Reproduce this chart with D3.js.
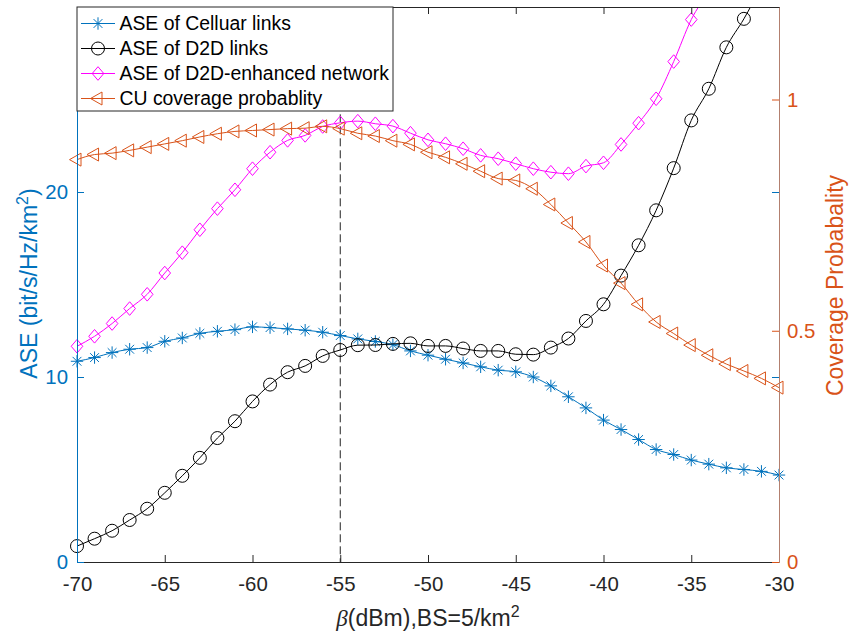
<!DOCTYPE html>
<html><head><meta charset="utf-8">
<script src="https://cdn.jsdelivr.net/npm/d3@7"></script>
<style>
body{margin:0;background:#fff}
svg{display:block}
text{font-family:"Liberation Sans",Arial,Helvetica,sans-serif}
</style>
</head><body>
<svg id="chart" width="849" height="635"></svg>
<script>
// ---------- data ----------
const beta = [-70,-69,-68,-67,-66,-65,-64,-63,-62,-61,-60,-59,-58,-57,-56,-55,-54,-53,-52,-51,
              -50,-49,-48,-47,-46,-45,-44,-43,-42,-41,-40,-39,-38,-37,-36,-35,-34,-33,-32,-31,-30];
const aseCellular = [10.85,11.05,11.32,11.5,11.59,11.93,12.11,12.36,12.47,12.56,
                     12.71,12.67,12.6,12.53,12.42,12.24,12.06,11.92,11.75,11.41,
                     11.18,10.96,10.76,10.55,10.37,10.28,10.0,9.52,8.93,8.33,
                     7.67,7.16,6.62,6.08,5.81,5.51,5.29,5.09,5.0,4.9,4.7];
const aseD2D = [0.86,1.26,1.69,2.27,2.88,3.74,4.66,5.63,6.70,7.61,
                8.68,9.59,10.26,10.6,11.14,11.46,11.72,11.73,11.79,11.82,
                11.68,11.68,11.54,11.41,11.41,11.23,11.21,11.59,12.08,13.03,
                13.93,15.48,17.12,19.01,21.29,23.87,25.58,27.82,29.36,31.1,32.8];
const aseEnhanced = [11.66,12.2,12.89,13.7,14.47,15.62,16.72,17.96,19.1,20.12,
                     21.26,22.15,22.79,23.06,23.54,23.74,23.83,23.69,23.56,23.18,
                     22.82,22.61,22.34,21.98,21.8,21.53,21.26,21.07,20.99,21.4,
                     21.58,22.57,23.72,25.04,27.05,29.32,30.9,32.9,34.4,36.0,37.5];
const cuCoverage = [0.870,0.881,0.884,0.890,0.897,0.904,0.911,0.919,0.926,0.931,
                    0.933,0.935,0.937,0.938,0.942,0.937,0.927,0.921,0.911,0.903,
                    0.886,0.875,0.861,0.845,0.829,0.825,0.807,0.773,0.733,0.692,
                    0.641,0.603,0.557,0.519,0.494,0.469,0.447,0.428,0.413,0.397,0.377];
const xTicks = [-70,-65,-60,-55,-50,-45,-40,-35,-30];
const yLeftTicks = [0,10,20];
const yRightTicks = [0,0.5,1];
const xDomain = [-70,-30];
const yLeftDomain = [0,30];
const yRightDomain = [0,1.2];
const markerX = -55;       // dashed reference line position
const markerTop = 24.2;    // top of dashed line (ASE units)
const legendLabels = ["ASE of Celluar links","ASE of D2D links","ASE of D2D-enhanced network","CU coverage probablity"];

// ---------- layout ----------
const L = 77, R = 779, T = 7, B = 562;
const BLUE = "#0072BD", ORANGE = "#D95319", MAGENTA = "#FF00FF", BLACK = "#000000", AX = "#262626";
const fmt = d => String(d);

const svg = d3.select("#chart");
const x = d3.scaleLinear().domain(xDomain).range([L, R]);
const yL = d3.scaleLinear().domain(yLeftDomain).range([B, T]);
const yR = d3.scaleLinear().domain(yRightDomain).range([B, T]);

svg.append("defs").append("clipPath").attr("id","plotclip")
  .append("rect").attr("x",L).attr("y",T).attr("width",R-L).attr("height",B-T);

// ---------- markers ----------
function drawMarker(g, type, cx, cy, color){
  if(type==="star"){
    const s=6.2, d=4.4;
    const p=`M${cx-s},${cy}L${cx+s},${cy}M${cx},${cy-s}L${cx},${cy+s}M${cx-d},${cy-d}L${cx+d},${cy+d}M${cx-d},${cy+d}L${cx+d},${cy-d}`;
    g.append("path").attr("d",p).attr("stroke",color).attr("stroke-width",1).attr("fill","none");
  } else if(type==="circle"){
    g.append("circle").attr("cx",cx).attr("cy",cy).attr("r",6.5).attr("stroke",color).attr("stroke-width",1).attr("fill","none");
  } else if(type==="diamond"){
    const p=`M${cx},${cy-6.8}L${cx+5.8},${cy}L${cx},${cy+6.8}L${cx-5.8},${cy}Z`;
    g.append("path").attr("d",p).attr("stroke",color).attr("stroke-width",1).attr("fill","none");
  } else if(type==="tri"){
    const p=`M${cx-7.5},${cy}L${cx+4},${cy-6.5}L${cx+4},${cy+6.5}Z`;
    g.append("path").attr("d",p).attr("stroke",color).attr("stroke-width",1).attr("fill","none");
  }
}

const series = [
  {vals: aseCellular, scale: yL, color: BLUE, marker: "star"},
  {vals: aseD2D, scale: yL, color: BLACK, marker: "circle"},
  {vals: aseEnhanced, scale: yL, color: MAGENTA, marker: "diamond"},
  {vals: cuCoverage, scale: yR, color: ORANGE, marker: "tri"}
];

// ---------- dashed line ----------
svg.append("line")
  .attr("x1",x(markerX)).attr("x2",x(markerX))
  .attr("y1",yL(markerTop)).attr("y2",yL(0))
  .attr("stroke","#222").attr("stroke-width",1).attr("stroke-dasharray","8,4");

// ---------- series ----------
series.forEach(s=>{
  const pts = beta.map((b,i)=>[b, s.vals[i]]);
  const line = d3.line().x(d=>x(d[0])).y(d=>s.scale(d[1])).curve(d3.curveMonotoneX);
  svg.append("path").attr("d",line(pts)).attr("fill","none")
    .attr("stroke",s.color).attr("stroke-width",1).attr("clip-path","url(#plotclip)");
  const g = svg.append("g");
  pts.forEach(p=>{
    const py = s.scale(p[1]);
    if(py >= T - 0.5 && py <= B + 0.5) drawMarker(g, s.marker, x(p[0]), py, s.color);
  });
});

// ---------- axes ----------
function styleAxis(g, color, textColor, fs){
  g.select(".domain").attr("stroke",color).attr("stroke-width",1);
  g.selectAll(".tick line").attr("stroke",color).attr("stroke-width",1);
  g.selectAll(".tick text").attr("fill",textColor).style("font-size",fs+"px")
    .style("font-family",'"Liberation Sans",Arial,sans-serif');
}
// top border
const gTop = svg.append("g").attr("transform",`translate(0,${T})`)
  .call(d3.axisTop(x).tickValues(xTicks).tickSizeInner(-7).tickSizeOuter(0).tickFormat(""));
styleAxis(gTop, AX, AX, 20.4);
// bottom axis
const gBot = svg.append("g").attr("transform",`translate(0,${B})`)
  .call(d3.axisBottom(x).tickValues(xTicks).tickSizeInner(-7).tickSizeOuter(0).tickPadding(15).tickFormat(fmt));
styleAxis(gBot, AX, AX, 20.4);
// right mirrored blue ticks
const gRB = svg.append("g").attr("transform",`translate(${R},0)`)
  .call(d3.axisRight(yL).tickValues(yLeftTicks).tickSizeInner(-7).tickSizeOuter(0).tickFormat(""));
gRB.select(".domain").remove();
gRB.selectAll(".tick line").attr("stroke",BLUE);
// right axis
const gR = svg.append("g").attr("transform",`translate(${R},0)`)
  .call(d3.axisRight(yR).tickValues(yRightTicks).tickSizeInner(-7).tickSizeOuter(0).tickPadding(8)
        .tickFormat(fmt));
styleAxis(gR, ORANGE, ORANGE, 20.4);
gR.select(".domain").attr("stroke","#b3806f");
// left axis
const gL = svg.append("g").attr("transform",`translate(${L},0)`)
  .call(d3.axisLeft(yL).tickValues(yLeftTicks).tickSizeInner(-7).tickSizeOuter(0).tickPadding(9).tickFormat(fmt));
styleAxis(gL, BLUE, BLUE, 20.4);

// ---------- axis labels ----------
const lt = svg.append("text").attr("transform",`translate(37,${(T+B)/2-1}) rotate(-90)`)
  .attr("text-anchor","middle").attr("fill",BLUE).style("font-size","23px");
lt.append("tspan").text("ASE (bit/s/Hz/km");
lt.append("tspan").attr("dy",-9).style("font-size","16px").text("2");
lt.append("tspan").attr("dy",9).text(")");

svg.append("text").attr("transform",`translate(843,${(T+B)/2+1}) rotate(-90)`)
  .attr("text-anchor","middle").attr("fill",ORANGE).style("font-size","23px")
  .text("Coverage Probabality");

const xt = svg.append("text").attr("x",(L+R)/2).attr("y",626)
  .attr("text-anchor","middle").attr("fill",AX).style("font-size","23px");
xt.append("tspan").style("font-family",'"Liberation Serif","Times New Roman",serif').style("font-style","italic").text("β");
xt.append("tspan").text("(dBm),BS=5/km");
xt.append("tspan").attr("dy",-9).style("font-size","16px").text("2");

// ---------- legend ----------
const lg = svg.append("g");
lg.append("rect").attr("x",L).attr("y",T).attr("width",316).attr("height",104)
  .attr("fill","#fff").attr("stroke",AX).attr("stroke-width",1);
series.forEach((s,i)=>{
  const cy = 23.5 + i*25;
  lg.append("line").attr("x1",81).attr("x2",115).attr("y1",cy).attr("y2",cy)
    .attr("stroke",s.color).attr("stroke-width",1);
  drawMarker(lg, s.marker, 98, cy, s.color);
  lg.append("text").attr("x",119.5).attr("y",cy).attr("dy","0.36em")
    .attr("fill","#000").style("font-size","19.4px").text(legendLabels[i]);
});
</script>
</body></html>
